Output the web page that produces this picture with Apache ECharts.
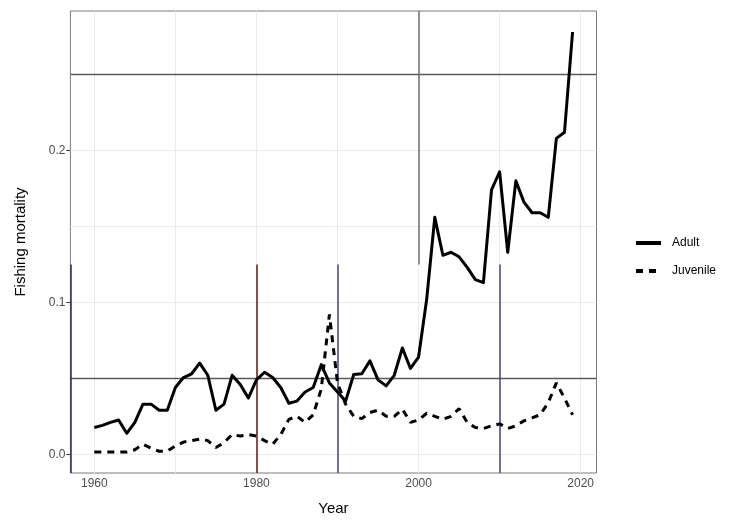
<!DOCTYPE html>
<html>
<head>
<meta charset="utf-8">
<script src="https://cdn.jsdelivr.net/npm/echarts@6/dist/echarts.min.js"></script>
<style>
  html, body { margin: 0; padding: 0; background: #ffffff; }
  #chart { width: 730px; height: 521px; }
</style>
</head>
<body>
<div id="chart"></div>
<script>
// Fishing mortality by life stage, 1960-2019
const years = [
  1960, 1961, 1962, 1963, 1964, 1965, 1966, 1967, 1968, 1969,
  1970, 1971, 1972, 1973, 1974, 1975, 1976, 1977, 1978, 1979,
  1980, 1981, 1982, 1983, 1984, 1985, 1986, 1987, 1988, 1989,
  1990, 1991, 1992, 1993, 1994, 1995, 1996, 1997, 1998, 1999,
  2000, 2001, 2002, 2003, 2004, 2005, 2006, 2007, 2008, 2009,
  2010, 2011, 2012, 2013, 2014, 2015, 2016, 2017, 2018, 2019
];

const adult = [
  0.0176, 0.019, 0.021, 0.0226, 0.0138, 0.021, 0.033, 0.033, 0.029, 0.029,
  0.044, 0.0505, 0.053, 0.060, 0.052, 0.029, 0.033, 0.052, 0.046, 0.037,
  0.049, 0.054, 0.0505, 0.044, 0.0336, 0.035, 0.041, 0.044, 0.059, 0.047,
  0.041, 0.035, 0.0525, 0.053, 0.0615, 0.049, 0.045, 0.052, 0.070, 0.0565,
  0.064, 0.102, 0.156, 0.131, 0.133, 0.130, 0.123, 0.115, 0.113, 0.174,
  0.186, 0.133, 0.180, 0.166, 0.159, 0.159, 0.156, 0.208, 0.212, 0.278
];

const juvenile = [
  0.0015, 0.0015, 0.0015, 0.0015, 0.0015, 0.003, 0.0066, 0.004, 0.002, 0.002,
  0.0055, 0.008, 0.009, 0.010, 0.009, 0.0044, 0.0077, 0.013, 0.012, 0.013,
  0.012, 0.009, 0.0066, 0.013, 0.023, 0.025, 0.021, 0.026, 0.043, 0.092,
  0.047, 0.033, 0.025, 0.0235, 0.0275, 0.029, 0.025, 0.025, 0.0297, 0.021,
  0.0226, 0.027, 0.025, 0.023, 0.025, 0.030, 0.021, 0.0176, 0.017, 0.0187,
  0.020, 0.017, 0.0187, 0.022, 0.024, 0.026, 0.034, 0.047, 0.037, 0.026
];

const seriesNames = ['Adult', 'Juvenile'];
const xTicks = [1960, 1980, 2000, 2020];
const xMinor = [1970, 1990, 2010];
const yTicks = [0, 0.1, 0.2];
const yMinor = [0.05, 0.15, 0.25];

// Panel limits padded by 5% of the data range on each side
const xLo = Math.min(...years), xHi = Math.max(...years);
const xPad = (xHi - xLo) * 0.05;
const xMin = xLo - xPad, xMax = xHi + xPad;
const allY = adult.concat(juvenile);
const yLo = Math.min(...allY), yHi = Math.max(...allY);
const yPad = (yHi - yLo) * 0.05;
const yMin = yLo - yPad, yMax = yHi + yPad;

const pairs = vals => years.map((y, i) => [y, vals[i]]);

const gridLineData = []
  .concat(xTicks.concat(xMinor).map(v => ({ xAxis: v })))
  .concat(yTicks.concat(yMinor).map(v => ({ yAxis: v })));

// Overlaid rule lines drawn on top of the grid
const ruleDark = '#5a5a5a';
const ruleData = [
  { yAxis: 0.05, lineStyle: { color: ruleDark, width: 1.3 } },
  { yAxis: 0.25, lineStyle: { color: ruleDark, width: 1.3 } },
  [{ coord: [1980, 0.125], lineStyle: { color: '#6e1414', width: 1.5 } }, { coord: [1980, yMin] }],
  [{ coord: [1990, 0.125], lineStyle: { color: '#45457a', width: 1.5 } }, { coord: [1990, yMin] }],
  [{ coord: [2000, yMax], lineStyle: { color: '#6f6f6f', width: 1.5 } }, { coord: [2000, 0.125] }],
  [{ coord: [2010, 0.125], lineStyle: { color: '#45457a', width: 1.5 } }, { coord: [2010, yMin] }],
  [{ coord: [xMin, 0.125], lineStyle: { color: '#2a2a5a', width: 1.5 } }, { coord: [xMin, yMin] }]
];

const chart = echarts.init(document.getElementById('chart'), null, { renderer: 'canvas' });

chart.setOption({
  animation: false,
  backgroundColor: '#ffffff',
  textStyle: { fontFamily: 'Liberation Sans, Arial, sans-serif' },
  grid: {
    left: 70.4, right: 133.5, top: 11, bottom: 47,
    show: true, borderColor: '#7a7a7a', borderWidth: 1, backgroundColor: 'transparent'
  },
  legend: {
    orient: 'vertical',
    left: 629, top: 232,
    itemWidth: 25, itemHeight: 14, itemGap: 16,
    data: seriesNames,
    itemStyle: { color: 'transparent', borderColor: 'transparent', borderWidth: 0 },
    lineStyle: { width: 4 },
    textStyle: { fontSize: 12, color: '#000000', padding: [0, 0, 0, 6] }
  },
  xAxis: {
    type: 'value',
    min: xMin, max: xMax,
    name: 'Year',
    nameLocation: 'middle',
    nameGap: 28,
    nameTextStyle: { fontSize: 15, color: '#000000' },
    axisLine: { show: false },
    axisTick: { show: true, length: 4, customValues: xTicks, lineStyle: { color: '#333333', width: 1 } },
    axisLabel: { customValues: xTicks, color: '#4d4d4d', fontSize: 12, margin: 5,
                 formatter: v => String(v) },
    splitLine: { show: false }
  },
  yAxis: {
    type: 'value',
    min: yMin, max: yMax,
    name: 'Fishing mortality',
    nameLocation: 'middle',
    nameGap: 42,
    nameTextStyle: { fontSize: 15, color: '#000000' },
    axisLine: { show: false },
    axisTick: { show: true, length: 4, customValues: yTicks, lineStyle: { color: '#333333', width: 1 } },
    axisLabel: { customValues: yTicks, color: '#4d4d4d', fontSize: 12, margin: 5,
                 formatter: v => v.toFixed(1) },
    splitLine: { show: false }
  },
  series: [
    {
      name: 'grid',
      type: 'line',
      data: [],
      z: 1,
      silent: true,
      markLine: {
        silent: true, z: 1, symbol: ['none', 'none'], animation: false,
        label: { show: false },
        lineStyle: { color: '#ebebeb', width: 1, type: 'solid' },
        data: gridLineData
      }
    },
    {
      name: 'rules',
      type: 'line',
      data: [],
      z: 1,
      silent: true,
      markLine: {
        silent: true, z: 1, symbol: ['none', 'none'], animation: false,
        label: { show: false },
        lineStyle: { type: 'solid' },
        data: ruleData
      }
    },
    {
      name: seriesNames[0],
      type: 'line',
      data: pairs(adult),
      z: 3,
      showSymbol: false,
      symbol: 'none',
      lineStyle: { color: '#000000', width: 3, type: 'solid', join: 'round' },
      itemStyle: { color: '#000000' }
    },
    {
      name: seriesNames[1],
      type: 'line',
      data: pairs(juvenile),
      z: 3,
      showSymbol: false,
      symbol: 'none',
      lineStyle: { color: '#000000', width: 3, type: [7, 6] },
      itemStyle: { color: '#000000' }
    }
  ]
});
</script>
</body>
</html>
